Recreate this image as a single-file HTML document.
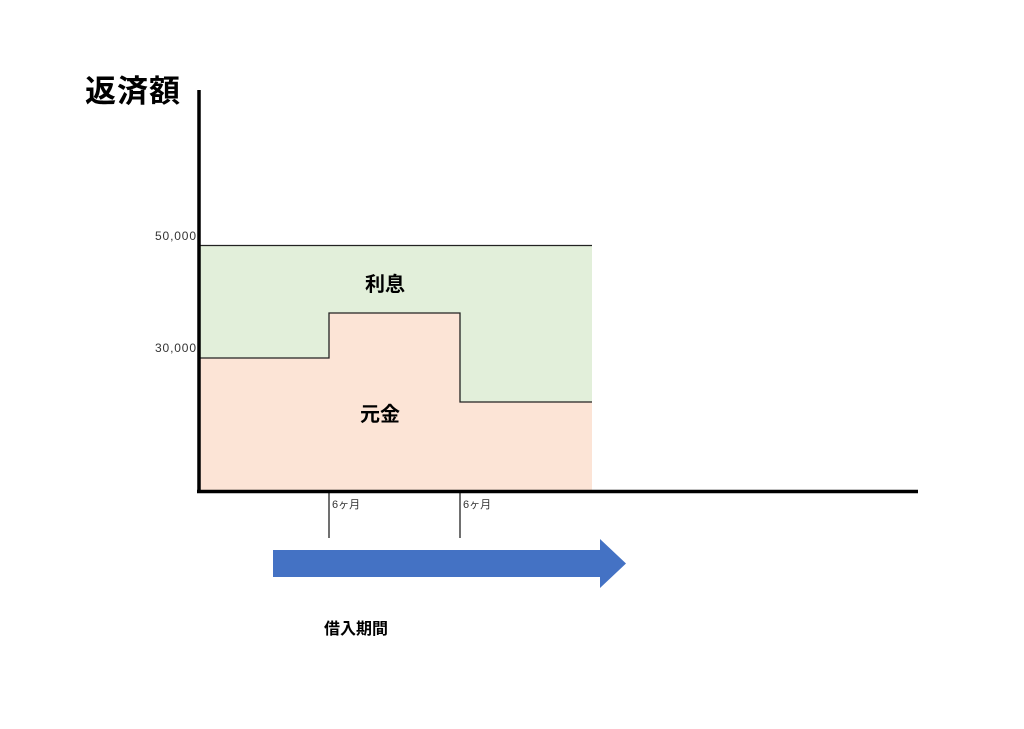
<!DOCTYPE html>
<html><head><meta charset="utf-8"><style>
body{margin:0;background:#fff;width:1024px;height:724px;overflow:hidden}
text{font-family:"Liberation Sans","Noto Sans CJK JP",sans-serif}
</style></head><body>
<svg width="1024" height="724" viewBox="0 0 1024 724">
<rect x="199" y="245" width="393" height="246" fill="#e2efda"/>
<polygon points="199,358 329,358 329,313 460,313 460,402 592,402 592,491 199,491" fill="#fce4d6"/>
<line x1="199" y1="245.5" x2="592" y2="245.5" stroke="#222" stroke-width="1.3"/>
<polyline points="199,358 329,358 329,313 460,313 460,402 592,402" fill="none" stroke="#222" stroke-width="1.3"/>
<line x1="329" y1="491" x2="329" y2="538" stroke="#222" stroke-width="1.3"/>
<line x1="460" y1="491" x2="460" y2="538" stroke="#222" stroke-width="1.3"/>
<line x1="199" y1="90" x2="199" y2="493" stroke="#000" stroke-width="3.5"/>
<line x1="197" y1="491.5" x2="918" y2="491.5" stroke="#000" stroke-width="3.5"/>
<polygon points="273,550 600,550 600,539 626,563.5 600,588 600,577 273,577" fill="#4472c4"/>
<text x="85" y="102" font-size="31" font-weight="bold" textLength="95">返済額</text>
<text x="155" y="240" font-size="12" fill="#333" textLength="41">50,000</text>
<text x="155" y="352" font-size="12" fill="#333" textLength="41">30,000</text>
<text x="365" y="291" font-size="20" font-weight="bold">利息</text>
<text x="360" y="421" font-size="20" font-weight="bold">元金</text>
<text x="332" y="508" font-size="11" fill="#333">6ヶ月</text>
<text x="463" y="508" font-size="11" fill="#333">6ヶ月</text>
<text x="324" y="634" font-size="16" font-weight="bold">借入期間</text>
</svg>
</body></html>
